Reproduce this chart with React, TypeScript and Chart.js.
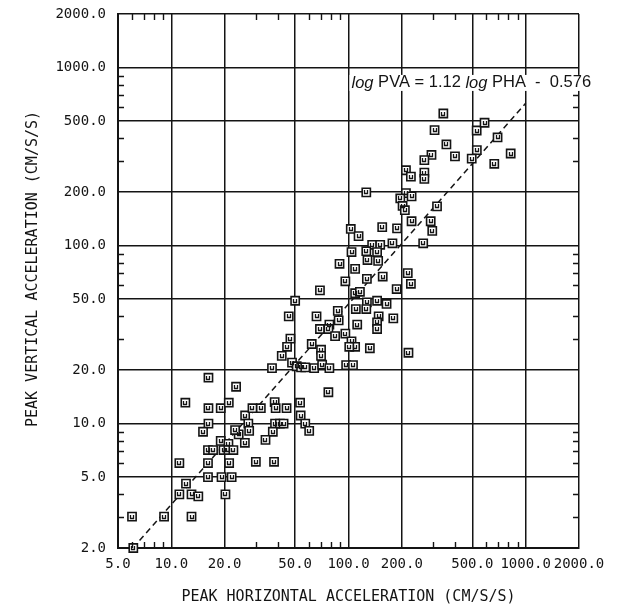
import React, { useEffect, useRef } from 'react';
import { Chart, registerables } from 'chart.js';

Chart.register(...registerables);

// ---- axis ticks ----
const xTickValues = [5, 10, 20, 50, 100, 200, 500, 1000, 2000];
const yTickValues = [2, 5, 10, 20, 50, 100, 200, 500, 1000, 2000];
const xMinorTicks = [6, 7, 8, 9, 30, 40, 60, 70, 80, 90, 300, 400, 600, 700, 800, 900];
const yMinorTicks = [3, 4, 6, 7, 8, 9, 30, 40, 60, 70, 80, 90, 300, 400, 600, 700, 800, 900];

// ---- data (peak horizontal / vertical acceleration, cm/s/s) ----
const phaValues = [
  343, 306, 529, 586, 357, 694, 399, 294, 268, 530,
  496, 823, 665, 211, 225, 268, 268, 126, 211, 196,
  227, 202, 208, 316, 227, 291, 297, 155, 188, 103,
  114, 264, 177, 136, 151, 104, 126, 145, 128, 147,
  89, 109, 216, 156, 127, 225, 96, 69, 187, 109,
  116, 145, 50, 164, 127, 126, 110, 87, 46, 66,
  88, 148, 179, 145, 145, 78, 69, 77, 84, 96,
  112, 47, 45, 62, 70, 70, 104, 109, 101, 132,
  218, 42, 48, 51, 54, 57, 37, 64, 71, 78,
  97, 106, 77,
  16.2, 23.2, 12.0, 16.2, 19.0, 21.1, 26.1, 28.7, 32, 38.3,
  38.8, 44.7, 53.3, 53.7, 57, 60, 38.5, 41, 43, 37.4,
  34, 27.2, 27.5, 26, 24, 22.9, 19, 21, 16.2, 15.1,
  16.1, 17.2, 19.7, 21, 22.4, 11.1, 16.1, 21.2, 30, 38,
  16.1, 19.2, 21.9, 12.1, 11.1, 13.0, 14.2, 20.2, 6.0, 9.1,
  13.0, 6.1,
];
const pvaValues = [
  552, 445, 443, 490, 370, 405, 317, 323, 302, 344,
  308, 329, 288, 265, 244, 257, 237, 199, 197, 184,
  189, 167, 158, 166, 137, 137, 121, 127, 125, 124,
  113, 103, 103, 101, 101, 92, 93, 92, 83, 82,
  79, 74, 70, 67, 65, 61, 63, 56, 57, 54,
  55, 49, 49, 47, 48, 44, 44, 43, 40, 40,
  38, 40, 39, 37, 34, 36, 34, 34, 31, 32,
  36, 30, 27, 28, 26, 24, 29, 27, 27, 26.5,
  25, 24, 22, 21, 20.7, 20.7, 20.5, 20.5, 21.4, 20.5,
  21.3, 21.3, 15,
  18.1, 16.1, 13.1, 12.2, 12.2, 13.1, 11.1, 12.2, 12.2, 13.2,
  12.2, 12.2, 13.1, 11.1, 10, 9.1, 10, 10, 10, 9.0,
  8.1, 10, 9.1, 7.8, 8.7, 9.2, 8.0, 7.7, 10, 9,
  7.1, 7.1, 7.1, 7.1, 7.1, 6.0, 6.0, 6.0, 6.1, 6.1,
  5.0, 5.0, 5.0, 4.6, 4.0, 4.0, 3.9, 4.0, 3.0, 3.0,
  3.0, 2.0,
];

// regression line log PVA = 1.12 log PHA - 0.576 (end points)
const fitLinePha = [6.07, 1000];
const fitLinePva = [2.0, 630];

const equationParts = [
  { text: 'log', italic: true },
  { text: ' PVA = 1.12 ', italic: false },
  { text: 'log', italic: true },
  { text: ' PHA  -  0.576', italic: false },
];
const equationAnchor = { pha: 104, pva: 820 };

const xTitle = 'PEAK HORIZONTAL ACCELERATION (CM/S/S)';
const yTitle = 'PEAK VERTICAL ACCELERATION (CM/S/S)';

const INK = '#141414';
const MONO = '"DejaVu Sans Mono", "Liberation Mono", monospace';

const decorPlugin = {
  id: 'decor',
  afterDatasetsDraw(chart: any) {
    const { ctx } = chart;
    const meta = chart.getDatasetMeta(1);
    ctx.save();
    ctx.strokeStyle = INK;
    ctx.lineWidth = 1.3;
    ctx.beginPath();
    for (const el of meta.data) {
      const cx = Math.round(el.x);
      const cy = Math.round(el.y);
      ctx.moveTo(cx - 1.5, cy - 2);
      ctx.lineTo(cx - 1.5, cy + 1.5);
      ctx.lineTo(cx + 1.5, cy + 1.5);
      ctx.lineTo(cx + 1.5, cy - 2);
    }
    ctx.stroke();
    ctx.restore();
  },
  afterDraw(chart: any) {
    const { ctx, chartArea: a } = chart;
    const x = chart.scales.x;
    const y = chart.scales.y;
    ctx.save();
    ctx.strokeStyle = INK;
    ctx.lineWidth = 1.4;
    ctx.beginPath();
    const len = 6;
    for (const v of xMinorTicks) {
      const px = Math.round(x.getPixelForValue(v)) + 0.5;
      ctx.moveTo(px, a.top);
      ctx.lineTo(px, a.top + len);
      ctx.moveTo(px, a.bottom);
      ctx.lineTo(px, a.bottom - len);
    }
    for (const v of yMinorTicks) {
      const py = Math.round(y.getPixelForValue(v)) + 0.5;
      ctx.moveTo(a.left, py);
      ctx.lineTo(a.left + len, py);
      ctx.moveTo(a.right, py);
      ctx.lineTo(a.right - len, py);
    }
    ctx.stroke();

    // y-axis title
    ctx.fillStyle = INK;
    ctx.font = `15px ${MONO}`;
    ctx.textAlign = 'center';
    ctx.textBaseline = 'middle';
    ctx.save();
    ctx.translate(33, (a.top + a.bottom) / 2 - 12);
    ctx.rotate(-Math.PI / 2);
    ctx.fillText(yTitle, 0, 0);
    ctx.restore();

    // equation label
    const ex = x.getPixelForValue(equationAnchor.pha);
    const ey = y.getPixelForValue(equationAnchor.pva);
    const size = 16.5;
    let total = 0;
    const widths = equationParts.map((p) => {
      ctx.font = `${p.italic ? 'italic ' : ''}${size}px "Liberation Sans", Arial, sans-serif`;
      const w = ctx.measureText(p.text).width;
      total += w;
      return w;
    });
    ctx.fillStyle = '#fff';
    ctx.fillRect(ex - 2, ey - 8, total + 4, 16);
    ctx.fillStyle = INK;
    ctx.textBaseline = 'middle';
    ctx.textAlign = 'left';
    let cx = ex;
    equationParts.forEach((p, i) => {
      ctx.font = `${p.italic ? 'italic ' : ''}${size}px "Liberation Sans", Arial, sans-serif`;
      ctx.fillText(p.text, cx, ey);
      cx += widths[i];
    });
    ctx.restore();
  },
};

export default function App() {
  const ref = useRef<HTMLCanvasElement | null>(null);

  useEffect(() => {
    if (!ref.current) return;
    const points = phaValues.map((v, i) => ({ x: v, y: pvaValues[i] }));
    const line = fitLinePha.map((v, i) => ({ x: v, y: fitLinePva[i] }));

    const chart = new Chart(ref.current, {
      type: 'scatter',
      data: {
        datasets: [
          {
            type: 'line',
            data: line,
            borderColor: INK,
            borderWidth: 1.5,
            borderDash: [6, 4],
            pointRadius: 0,
            fill: false,
            clip: false,
            order: 2,
          } as any,
          {
            data: points,
            pointStyle: 'rect',
            pointRadius: 5.8,
            backgroundColor: '#fff',
            borderColor: INK,
            borderWidth: 1.6,
            clip: false,
            order: 1,
          } as any,
        ],
      },
      options: {
        responsive: false,
        animation: false,
        devicePixelRatio: 1,
        layout: { padding: { left: 0, right: 52, top: 14, bottom: 0 } },
        plugins: {
          legend: { display: false },
          tooltip: { enabled: false },
        },
        scales: {
          x: {
            type: 'logarithmic',
            min: 5,
            max: 2000,
            afterBuildTicks: (s: any) => {
              s.ticks = xTickValues.map((v) => ({ value: v }));
            },
            afterFit: (s: any) => {
              s.height = 61;
              s.paddingLeft = 0;
              s.paddingRight = 0;
            },
            ticks: {
              autoSkip: false,
              maxRotation: 0,
              minRotation: 0,
              padding: 8,
              color: INK,
              font: { family: MONO, size: 14 },
              callback: (v: any) => Number(v).toFixed(1),
            },
            grid: { color: INK, lineWidth: 1.5, drawTicks: false },
            border: { display: true, color: INK, width: 2 },
            title: {
              display: true,
              text: xTitle,
              color: INK,
              font: { family: MONO, size: 15 },
              padding: { top: 0, bottom: 3 },
            },
          },
          y: {
            type: 'logarithmic',
            min: 2,
            max: 2000,
            afterBuildTicks: (s: any) => {
              s.ticks = yTickValues.map((v) => ({ value: v }));
            },
            afterFit: (s: any) => {
              s.width = 118;
              s.paddingTop = 0;
              s.paddingBottom = 0;
            },
            ticks: {
              autoSkip: false,
              padding: 12,
              color: INK,
              font: { family: MONO, size: 14 },
              callback: (v: any) => Number(v).toFixed(1),
            },
            grid: { color: INK, lineWidth: 1.5, drawTicks: false },
            border: { display: true, color: INK, width: 2 },
          },
        },
      },
      plugins: [decorPlugin],
    } as any);

    return () => chart.destroy();
  }, []);

  return (
    <div style={{ position: 'fixed', left: 0, top: 0, width: 631, height: 609, background: '#fff' }}>
      <canvas ref={ref} width={631} height={609} style={{ display: 'block' }} />
    </div>
  );
}
